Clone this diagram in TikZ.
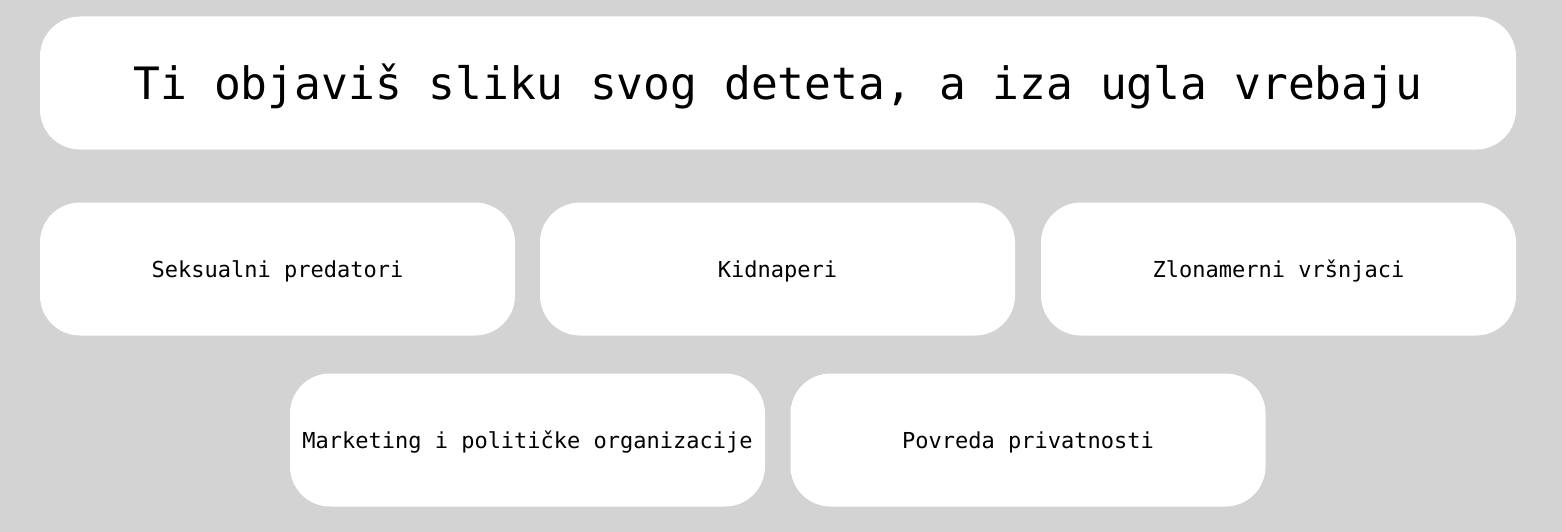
\documentclass[tikz,border=0pt]{standalone}
\usepackage{fontspec}
\usepackage{tikz}
\usepackage{color}
\newfontfamily\monofont{DejaVu Sans Mono}
\definecolor{pozadina}{HTML}{D3D3D3}

\begin{document}
\begin{tikzpicture}[x=1pt,y=-1pt,
  box/.style={fill=white, rounded corners=40pt, inner sep=0pt,
    minimum width=475pt, minimum height=133pt, text depth=0pt},
  naslov/.style={box, minimum width=1476pt, text height=33pt,
    font=\monofont\fontsize{44.6}{54}\selectfont},
  stavka/.style={box, text height=16pt,
    font=\monofont\fontsize{22}{26}\selectfont}]
 % background
 \fill[pozadina] (0,0) rectangle (1562,532);
 \useasboundingbox (0,0) rectangle (1562,532);
 % title
 \node[naslov] (title) at (778,83) {Ti objaviš sliku svog deteta, a iza ugla vrebaju};
 % first row
 \node[stavka] (pred) at (277.5,269) {Seksualni predatori};
 \node[stavka] (kidn) at (777.5,269) {Kidnaperi};
 \node[stavka] (vrsn) at (1278.5,269) {Zlonamerni vršnjaci};
 % second row
 \node[stavka] (mark) at (527.5,440) {Marketing i političke organizacije};
 \node[stavka] (priv) at (1028,440) {Povreda privatnosti};
\end{tikzpicture}
\end{document}
